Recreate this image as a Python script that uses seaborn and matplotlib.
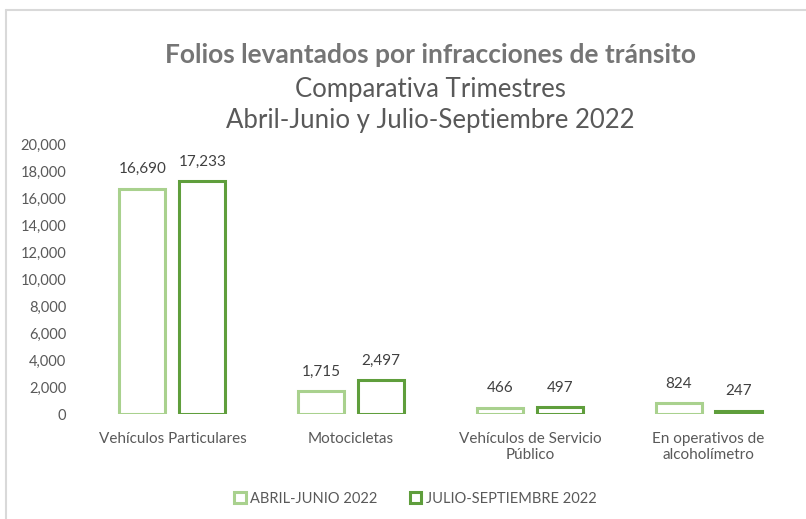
import pandas as pd
import matplotlib.pyplot as plt
import seaborn as sns
from matplotlib.lines import Line2D

categorias = ["Vehículos Particulares", "Motocicletas",
              "Vehículos de Servicio\nPúblico", "En operativos de\nalcoholímetro"]
abril_junio = [16690, 1715, 466, 824]
julio_sept = [17233, 2497, 497, 247]
periodos = ["ABRIL-JUNIO 2022", "JULIO-SEPTIEMBRE 2022"]
colores = ["#a9d18e", "#5f9e3c"]

df = pd.DataFrame({
    "categoria": categorias * 2,
    "folios": abril_junio + julio_sept,
    "periodo": [periodos[0]] * 4 + [periodos[1]] * 4,
})

sns.set_style("white")
plt.rcParams["font.family"] = ["Lato", "DejaVu Sans"]
gris = "#595959"

fig = plt.figure(figsize=(8.06, 5.19), dpi=100)
ax = fig.add_axes([0.103, 0.202, 0.887, 0.5205])

sns.barplot(data=df, x="categoria", y="folios", hue="periodo", palette=colores,
            fill=False, linewidth=2.2, width=0.67, gap=0.23, ax=ax)

for cont in ax.containers:
    ax.bar_label(cont, labels=[f"{v:,.0f}" for v in cont.datavalues],
                 padding=9, fontsize=11, color="#404040")

ax.set_ylim(0, 20000)
ax.set_yticks(range(0, 20001, 2000))
ax.set_yticklabels([f"{v:,}" for v in range(0, 20001, 2000)])
ax.tick_params(axis="y", labelsize=10.5, labelcolor=gris, length=0, pad=12)
ax.tick_params(axis="x", labelsize=11, labelcolor=gris, length=0, pad=13)
ax.set_xlabel("")
ax.set_ylabel("")
sns.despine(left=True, bottom=True)

leg = ax.legend(loc="upper center", bbox_to_anchor=(0.465, -0.238), ncol=2,
                frameon=False, fontsize=10.5, handlelength=0.8, handleheight=0.8,
                handletextpad=0.3, columnspacing=2.2)
for t in leg.get_texts():
    t.set_color(gris)

fig.text(0.534, 0.894, "Folios levantados por infracciones de tránsito",
         ha="center", va="center", fontsize=19, fontweight="bold", color="#757575")
fig.text(0.534, 0.828, "Comparativa Trimestres", ha="center", va="center",
         fontsize=18.5, color=gris)
fig.text(0.534, 0.768, "Abril-Junio y Julio-Septiembre 2022", ha="center", va="center",
         fontsize=18.5, color=gris)

# marco del grafico
fig.add_artist(Line2D([0.007, 1.0], [0.981, 0.981], color="#d9d9d9", lw=1.5))
fig.add_artist(Line2D([0.007, 0.007], [0.0, 0.981], color="#d9d9d9", lw=1.5))

plt.savefig("out.png")
